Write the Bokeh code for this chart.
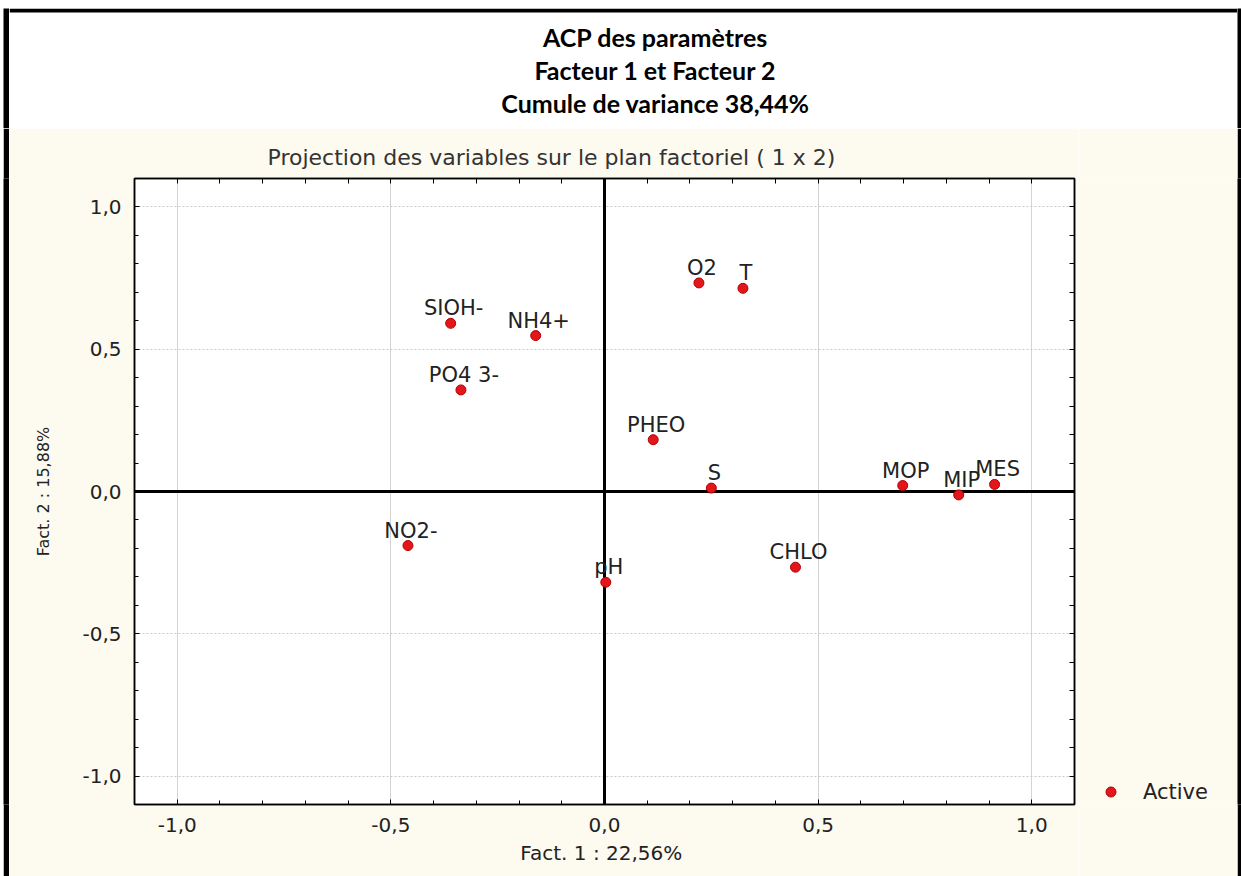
from bokeh.core.properties import value
from bokeh.embed import file_html
from bokeh.layouts import column, row
from bokeh.models import (ColumnDataSource, FixedTicker, Label, Legend, LegendItem,
                          LinearAxis, Range1d, Spacer, Span, Title)
from bokeh.plotting import figure
from bokeh.resources import INLINE

# Coordinates of each variable on factors 1 and 2
variables = ["O2", "T", "SIOH-", "NH4+", "PO4 3-", "PHEO", "S",
             "MOP", "MIP", "MES", "NO2-", "pH", "CHLO"]
fact1 = [0.221, 0.324, -0.360, -0.161, -0.336, 0.114, 0.250,
         0.698, 0.829, 0.913, -0.460, 0.003, 0.447]
fact2 = [0.733, 0.714, 0.591, 0.548, 0.357, 0.182, 0.012,
         0.021, -0.012, 0.025, -0.190, -0.319, -0.266]

major_ticks = [-1.0, -0.5, 0.0, 0.5, 1.0]
major_tick_labels = ["-1,0", "-0,5", "0,0", "0,5", "1,0"]
minor_ticks = [-1.1, -1.0, -0.9, -0.8, -0.7, -0.6, -0.5, -0.4, -0.3, -0.2, -0.1, 0.0,
               0.1, 0.2, 0.3, 0.4, 0.5, 0.6, 0.7, 0.8, 0.9, 1.0, 1.1]
grid_ticks = [-1.0, -0.5, 0.5, 1.0]

title_lines = ["ACP des paramètres", "Facteur 1 et Facteur 2", "Cumule de variance 38,44%"]
subtitle = "Projection des variables sur le plan factoriel ( 1 x 2)"
x_label = "Fact. 1  : 22,56%"
y_label = "Fact. 2 : 15,88%"
legend_label = "Active"

CREAM = "#FDFAF0"
INK = "#222222"
FONT = "DejaVu Sans"
DOT_STYLE = dict(marker="circle", size=10, fill_color="#E3161B",
                 line_color="#B40000", line_width=1)


def block(w, h, color):
    """Plain coloured strip used for the page frame."""
    return figure(width=w, height=h, toolbar_location=None, output_backend="svg",
                  x_axis_type=None, y_axis_type=None, min_border=0,
                  background_fill_color=color, border_fill_color=color,
                  outline_line_color=None)


# ---------- header with the bold three-line title ----------
head = figure(width=1228, height=120, toolbar_location=None, output_backend="svg",
              x_axis_type=None, y_axis_type=None, min_border=0,
              x_range=Range1d(0, 1228), y_range=Range1d(0, 120),
              background_fill_color="white", border_fill_color="white",
              outline_line_color=None)
head.add_layout(Span(location=118, dimension="width", line_color="black", line_width=4))
for i, line in enumerate(title_lines):
    head.add_layout(Label(x=646, y=92 - 33 * i, text=line, text_align="center",
                          text_baseline="middle", text_font="Lato",
                          text_font_style="bold", text_font_size="25px",
                          text_color="black"))

# ---------- main factorial plane ----------
p = figure(width=1069, height=748, toolbar_location=None, output_backend="svg",
           x_range=Range1d(-1.1, 1.1), y_range=Range1d(-1.1, 1.1),
           min_border_left=125, min_border_right=4,
           min_border_top=50, min_border_bottom=72,
           background_fill_color="white", border_fill_color=CREAM,
           outline_line_color="black", outline_line_width=1.5)

p.title = Title(text=subtitle, align="left", offset=133, standoff=18,
                text_font=FONT, text_font_size="22px", text_font_style="normal",
                text_color="#333333")

ticker = FixedTicker(ticks=major_ticks, minor_ticks=minor_ticks)
overrides = dict(zip(major_ticks, major_tick_labels))

for ax in (p.xaxis[0], p.yaxis[0]):
    ax.ticker = ticker
    ax.major_label_overrides = overrides
    ax.major_tick_in, ax.major_tick_out = 5, 0
    ax.minor_tick_in, ax.minor_tick_out = 4, 0
    ax.axis_line_color = "black"
    ax.axis_line_width = 1.5
    ax.major_label_text_font = FONT
    ax.major_label_text_font_size = "20px"
    ax.major_label_text_color = INK
    ax.major_label_standoff = 13
    ax.axis_label_text_font = FONT
    ax.axis_label_text_font_style = "normal"
    ax.axis_label_text_color = INK

p.xaxis[0].axis_label = x_label
p.xaxis[0].axis_label_text_font_size = "20px"
p.xaxis[0].axis_label_standoff = 6
p.yaxis[0].axis_label = y_label
p.yaxis[0].axis_label_text_font_size = "16px"
p.yaxis[0].axis_label_standoff = 26

# plain tick marks (no labels) on the top and right sides of the box
box_ticker = FixedTicker(ticks=[], minor_ticks=minor_ticks)
for side_name in ("above", "right"):
    ax = LinearAxis(ticker=box_ticker, minor_tick_in=5, minor_tick_out=0,
                    major_tick_in=0, major_tick_out=0,
                    axis_line_color="black", axis_line_width=1.5, major_label_standoff=0)
    p.add_layout(ax, side_name)

for g in (p.xgrid[0], p.ygrid[0]):
    g.ticker = FixedTicker(ticks=grid_ticks)
p.xgrid[0].grid_line_color = "#D4D4D4"
p.ygrid[0].grid_line_color = "#C8C8C8"
p.ygrid[0].grid_line_dash = "2 2"

for dim in ("height", "width"):
    p.add_layout(Span(location=0, dimension=dim, line_color="black",
                      line_width=3, level="underlay"))

src = ColumnDataSource(dict(name=variables, f1=fact1, f2=fact2))
p.text(x="f1", y="f2", text="name", source=src, x_offset=3, y_offset=-15,
       text_align="center", text_baseline="middle", text_font=value(FONT),
       text_font_size="21px", text_color=INK)
p.scatter("f1", "f2", source=src, **DOT_STYLE)

# ---------- legend column on the right ----------
# the key renderer shares the data but its ranges keep every point out of view
side = figure(width=159, height=748, toolbar_location=None, output_backend="svg",
              x_axis_type=None, y_axis_type=None, min_border=0,
              x_range=Range1d(5, 6), y_range=Range1d(5, 6),
              background_fill_color=CREAM, border_fill_color=CREAM,
              outline_line_color=None)
key = side.scatter("f1", "f2", source=src, **DOT_STYLE)
side.add_layout(Legend(items=[LegendItem(label=legend_label, renderers=[key])],
                       location=(20, 0), padding=0, margin=0, spacing=0,
                       glyph_width=25, glyph_height=25, label_standoff=20,
                       label_text_font=FONT, label_text_font_size="21px",
                       label_text_color=INK, border_line_color=None,
                       background_fill_alpha=0))

header = row(Spacer(width=3, height=120), block(6, 120, "black"), head, block(4, 120, "black"))
body = row(Spacer(width=3, height=748), block(6, 748, "black"), p, side, block(4, 748, "black"))
layout = column(Spacer(width=1241, height=8), header, body)

open("out.html", "w").write(file_html(layout, INLINE))
